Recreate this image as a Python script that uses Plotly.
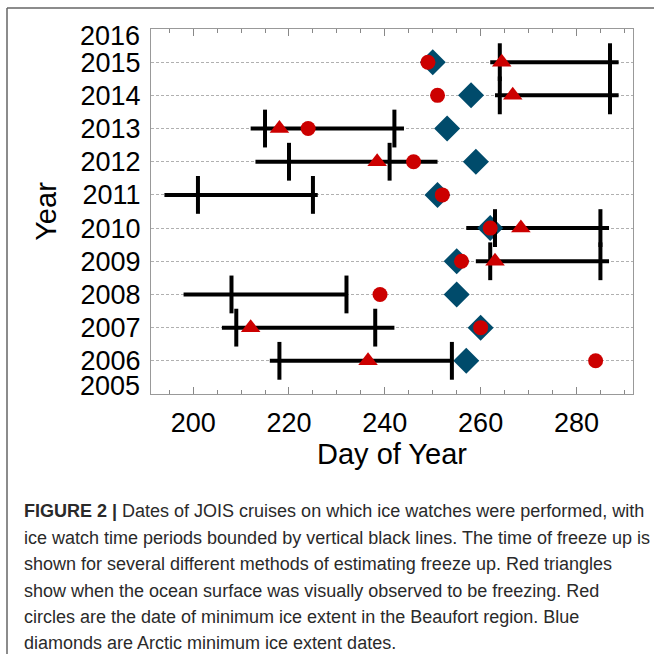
import plotly.graph_objects as go

# ---------------- data ----------------
years = [2006, 2007, 2008, 2009, 2010, 2011, 2012, 2013, 2014, 2015]
cruise_start = [216, 206, 198, 259, 257, 194, 213, 212, 263, 262]
cruise_end = [254.2, 242, 232.2, 286.8, 286.8, 226, 251, 244, 288.8, 288.8]
watch_start = [218, 209, 208, 262, 263, 201, 220, 215, 264, 264]
watch_end = [254, 238, 232, 285, 285, 225, 241, 242, 287, 287]
arctic_min = [257, 260, 255, 255, 262, 251, 259, 253, 258, 250]
beaufort_min = [284, 260, 239, 256, 262, 252, 246, 224, 251, 249]
freeze_obs = [236.5, 212, None, 263, 268.4, None, 238.4, 218, 266.7, 264.4]

x_ticks = [200, 220, 240, 260, 280]
y_ticks = [2006, 2007, 2008, 2009, 2010, 2011, 2012, 2013, 2014, 2015]
y_edge_labels = [2016, 2005]

caption_lines = [
    "<b>FIGURE 2 |</b> Dates of JOIS cruises on which ice watches were performed, with",
    "ice watch time periods bounded by vertical black lines. The time of freeze up is",
    "shown for several different methods of estimating freeze up. Red triangles",
    "show when the ocean surface was visually observed to be freezing. Red",
    "circles are the date of minimum ice extent in the Beaufort region. Blue",
    "diamonds are Arctic minimum ice extent dates.",
]

# ---------------- layout constants (pixels) ----------------
W = H = 654
L, R, T, B = 151, 633, 29, 394
FONT = "Liberation Sans, Arial, sans-serif"
BLUE = "#004B6B"
RED = "#CC0000"


def px_x(p):
    return (p - L) / (R - L)


def px_y(p):
    return (B - p) / (B - T)


fig = go.Figure()

# cruise periods (horizontal lines)
lx, ly = [], []
for y, s, e in zip(years, cruise_start, cruise_end):
    lx += [s, e, None]
    ly += [y, y, None]
fig.add_trace(go.Scatter(x=lx, y=ly, mode="lines",
                         line=dict(color="black", width=4), hoverinfo="skip"))

# Arctic minimum (diamonds)
fig.add_trace(go.Scatter(x=arctic_min, y=years, mode="markers",
                         marker=dict(symbol="diamond", size=20, color=BLUE,
                                     line=dict(width=0))))

# ice watch bounds (vertical bars)
fig.add_trace(go.Scatter(x=watch_start + watch_end, y=years + years, mode="markers",
                         marker=dict(symbol="line-ns", size=27,
                                     line=dict(color="black", width=4))))

# Beaufort minimum (circles)
fig.add_trace(go.Scatter(x=beaufort_min, y=years, mode="markers",
                         marker=dict(symbol="circle", size=15, color=RED,
                                     line=dict(width=0))))

# visually observed freezing (triangles)
fig.add_trace(go.Scatter(x=freeze_obs, y=years, mode="markers",
                         marker=dict(symbol="triangle-up", size=17, color=RED,
                                     line=dict(width=0))))

annotations = []
# edge year labels (2016 / 2005), nudged inward like the reference
for yv, shift in zip(y_edge_labels, [-7, 8]):
    annotations.append(dict(x=px_x(142), xref="paper", y=yv, yref="y",
                            text=str(yv), showarrow=False, xanchor="right",
                            yanchor="middle", yshift=shift,
                            font=dict(family=FONT, size=27, color="black")))

# caption
cap_y = [511, 537.5, 564, 590.5, 617, 643]
for txt, cy in zip(caption_lines, cap_y):
    annotations.append(dict(x=px_x(22), xref="paper", y=px_y(cy), yref="paper",
                            text=txt, showarrow=False, xanchor="left",
                            yanchor="middle",
                            font=dict(family=FONT, size=18, color="#2a2a2a")))

shapes = [
    dict(type="line", xref="paper", yref="paper", x0=px_x(7), x1=px_x(700),
         y0=px_y(8), y1=px_y(8), line=dict(color="#666666", width=1.5)),
    dict(type="line", xref="paper", yref="paper", x0=px_x(7), x1=px_x(7),
         y0=px_y(8), y1=px_y(700), line=dict(color="#666666", width=1.5)),
]

fig.update_layout(
    width=W, height=H,
    margin=dict(l=L, r=W - R, t=T, b=H - B),
    paper_bgcolor="white", plot_bgcolor="white",
    showlegend=False,
    font=dict(family=FONT, color="black"),
    annotations=annotations,
    shapes=shapes,
    xaxis=dict(
        range=[191.2, 291.8],
        tickvals=x_ticks,
        ticks="inside", ticklen=7, tickcolor="#888888", tickwidth=1,
        ticklabelstandoff=5,
        minor=dict(dtick=5, tick0=0, ticks="inside", ticklen=4,
                   tickcolor="#888888", showgrid=False),
        showgrid=False, zeroline=False,
        showline=True, linecolor="#999999", linewidth=1, mirror="allticks",
        tickfont=dict(family=FONT, size=27, color="black"),
        title=dict(text="Day of Year", font=dict(family=FONT, size=29, color="black"),
                   standoff=0),
    ),
    yaxis=dict(
        range=[2005, 2016],
        tickvals=y_ticks,
        ticks="", ticklabelstandoff=4,
        showgrid=True, gridcolor="#b0b0b0", gridwidth=1, griddash="3px,2px",
        zeroline=False,
        showline=True, linecolor="#999999", linewidth=1, mirror=True,
        tickfont=dict(family=FONT, size=27, color="black"),
        title=dict(text="Year", font=dict(family=FONT, size=29, color="black"),
                   standoff=15),
    ),
)

fig.write_html("out.html")
